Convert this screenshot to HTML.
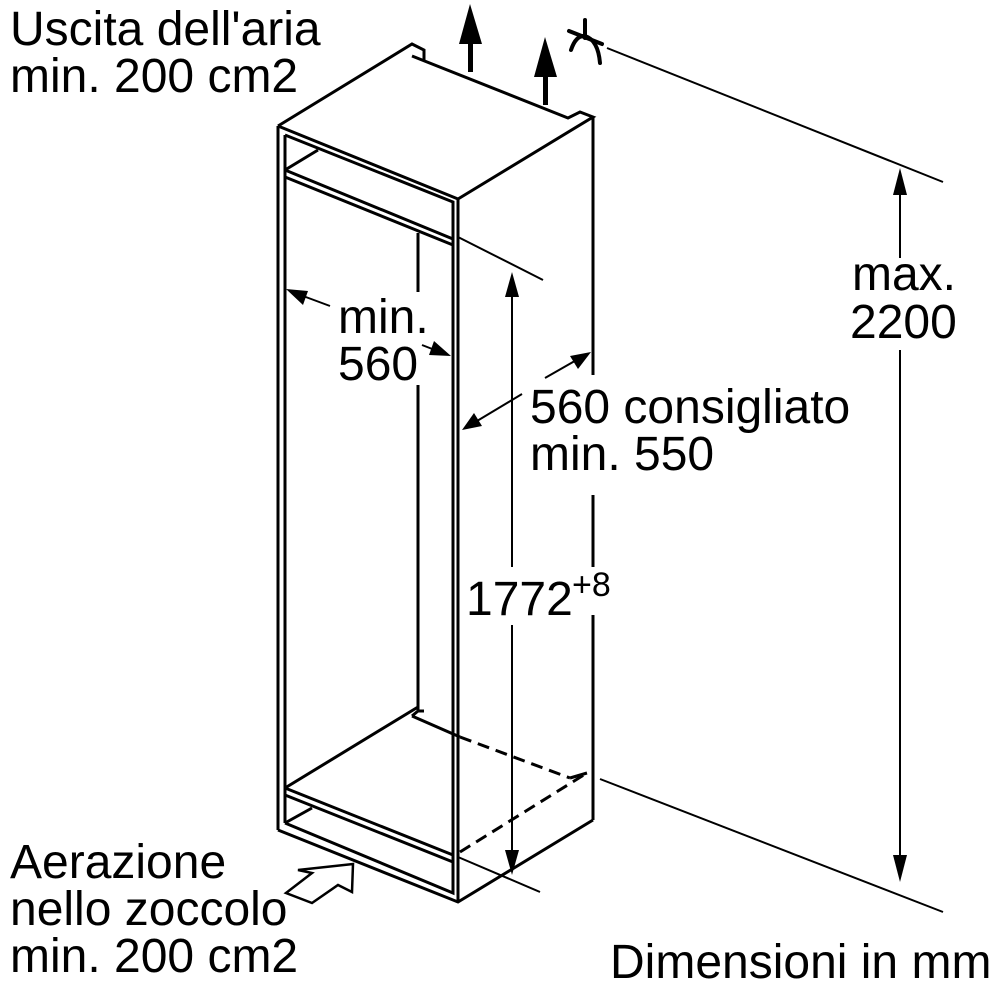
<!DOCTYPE html>
<html><head><meta charset="utf-8"><style>
html,body{margin:0;padding:0;background:#fff;}
svg{display:block;}
text{font-family:"Liberation Sans",sans-serif;font-size:48px;fill:#000;}
</style></head><body>
<svg width="997" height="1000" viewBox="0 0 997 1000" xmlns="http://www.w3.org/2000/svg">
<g fill="none" stroke="#000" stroke-width="3" stroke-linejoin="miter">
<polyline points="278,126 412,44 424,50 424,60"/>
<polyline points="412,56 568,118 580,112 593,117 458,199 278,126"/>
<line x1="278" y1="126" x2="278" y2="830"/>
<line x1="458" y1="199" x2="458" y2="902"/>
<line x1="593" y1="117" x2="593" y2="375"/>
<line x1="593" y1="495" x2="593" y2="567"/>
<line x1="593" y1="615" x2="593" y2="820"/>
<polyline points="278,830 458,902 593,820"/>
<line x1="285" y1="135" x2="285" y2="823"/>
<line x1="453" y1="202" x2="453" y2="893"/>
<polyline points="285,135 453,202 453,239 285,170"/>
<line x1="285" y1="170" x2="318" y2="150"/>
<line x1="285" y1="177" x2="453" y2="245"/>
<line x1="418" y1="233" x2="418" y2="292"/>
<line x1="418" y1="385" x2="418" y2="710"/>
<line x1="285" y1="788" x2="418" y2="707"/>
<polyline points="412,716 418,711 424,711"/>
<line x1="412" y1="716" x2="460" y2="737"/>
<line x1="285" y1="788" x2="453" y2="855"/>
<polyline points="285,795 453,862 453,893 285,823"/>
<line x1="285" y1="823" x2="312" y2="808"/>
<g stroke-dasharray="12,7">
<line x1="460" y1="737" x2="570" y2="778"/>
<line x1="460" y1="852" x2="587" y2="773"/>
</g>
<line x1="570" y1="778" x2="587" y2="773"/>
</g>
<g stroke="#000" stroke-width="2" fill="none">
<line x1="607" y1="48" x2="943" y2="182"/>
<line x1="600" y1="779" x2="943" y2="912"/>
<line x1="458" y1="237" x2="543" y2="280"/>
<line x1="458" y1="857" x2="540" y2="892"/>
<line x1="900" y1="185" x2="900" y2="258"/>
<line x1="900" y1="350" x2="900" y2="865"/>
<line x1="512" y1="285" x2="512" y2="567"/>
<line x1="512" y1="625" x2="512" y2="862"/>
<line x1="295" y1="293" x2="330" y2="306"/>
<line x1="422" y1="345" x2="440" y2="352"/>
<line x1="472" y1="424" x2="522" y2="394"/>
<line x1="545" y1="378" x2="580" y2="358"/>
</g>
<g fill="#000" stroke="none">
<polygon points="900,168 893,195 907,195"/>
<polygon points="900,882 893,855 907,855"/>
<polygon points="512,272 505,297 519,297"/>
<polygon points="512,875 505,850 519,850"/>
<polygon points="286,289 308,291 303,305"/>
<polygon points="451,356 429,355 434,341"/>
<polygon points="462,430 474,413 482,426"/>
<polygon points="591,352 578,369 570,356"/>
<rect x="468" y="35" width="5" height="37"/>
<polygon points="470,4 459,44 482,44"/>
<rect x="543" y="68" width="5" height="37"/>
<polygon points="545,37 534,77 557,77"/>
</g>
<g stroke="#000" stroke-width="4" fill="none" stroke-linecap="round">
<line x1="585" y1="20" x2="585" y2="38"/>
<line x1="569" y1="31" x2="602" y2="44"/>
<path d="M571,50 Q576,35 585,36 Q598,40 600,63"/>
</g>
<polygon points="298,870 353,864 352,892 338,885 312,903 286,893 312,873" fill="#fff" stroke="#000" stroke-width="2.5"/>
<text x="10" y="45">Uscita dell'aria</text>
<text x="10" y="92">min. 200 cm2</text>
<text x="852" y="290">max.</text>
<text x="850" y="338">2200</text>
<text x="338" y="333">min.</text>
<text x="338" y="380">560</text>
<text x="530" y="423">560 consigliato</text>
<text x="530" y="470">min. 550</text>
<text x="466" y="615">1772</text>
<text x="572" y="596" style="font-size:34px">+8</text>
<text x="10" y="878">Aerazione</text>
<text x="10" y="925">nello zoccolo</text>
<text x="10" y="972">min. 200 cm2</text>
<text x="610" y="978">Dimensioni in mm</text>
</svg>
</body></html>
